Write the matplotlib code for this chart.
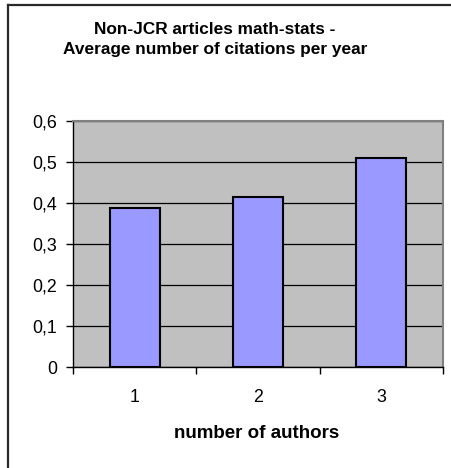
import matplotlib
matplotlib.use("Agg")
import matplotlib.pyplot as plt
from matplotlib.lines import Line2D
from matplotlib.ticker import FixedLocator, NullFormatter

plt.rcParams["font.family"] = ["Liberation Sans", "DejaVu Sans"]

# average citations per year by number of authors
authors = ["1", "2", "3"]
citations = [0.387, 0.415, 0.509]
y_ticks = [0.0, 0.1, 0.2, 0.3, 0.4, 0.5, 0.6]
y_labels = ["0", "0,1", "0,2", "0,3", "0,4", "0,5", "0,6"]

W, H = 452, 468
fig = plt.figure(figsize=(W / 100, H / 100), dpi=100)

# outer chart frame (cut off at right and bottom)
fig.add_artist(Line2D([8 / W, 8 / W], [1 - 5 / H, 0], color="#2a2a2a", lw=1.6,
                      transform=fig.transFigure))
fig.add_artist(Line2D([8 / W, 1], [1 - 5 / H, 1 - 5 / H], color="#2a2a2a", lw=1.6,
                      transform=fig.transFigure))

ax = fig.add_axes([73 / W, 101 / H, 370 / W, 246 / H])
ax.set_facecolor("#C0C0C0")

pos = list(range(len(authors)))
ax.bar(pos, citations, width=0.405, color="#9999FF", edgecolor="black", linewidth=1.5,
       zorder=3)

ax.set_xlim(-0.5, len(authors) - 0.5)
ax.set_ylim(0, 0.6)
ax.set_yticks(y_ticks)
ax.set_yticklabels(y_labels, fontsize=12.8)
ax.yaxis.grid(True, color="black", lw=0.9, zorder=1)

# ticks at category boundaries, labels centred under the bars
ax.xaxis.set_major_locator(FixedLocator([p - 0.5 for p in pos] + [pos[-1] + 0.5]))
ax.xaxis.set_major_formatter(NullFormatter())
ax.xaxis.set_minor_locator(FixedLocator(pos))
ax.set_xticklabels(authors, minor=True, fontsize=12.8)
ax.tick_params(axis="x", which="major", length=5, width=1, direction="out")
ax.tick_params(axis="x", which="minor", length=0, pad=16)
ax.tick_params(axis="y", length=5, width=1, direction="out", pad=6.5)

for side in ("top", "right"):
    ax.spines[side].set_color("#808080")
    ax.spines[side].set_linewidth(1.5)
for side in ("left", "bottom"):
    ax.spines[side].set_color("black")
    ax.spines[side].set_linewidth(1)

fig.text(257 / W, 1 - 438 / H, "number of authors", ha="center", va="baseline",
         fontsize=13.5, fontweight="bold")

fig.text(215 / W, 1 - 39.5 / H,
         "Non-JCR articles math-stats -\nAverage number of citations per year",
         ha="center", va="center", fontsize=12.4, fontweight="bold", linespacing=1.4)

fig.savefig("out.png", dpi=100)
